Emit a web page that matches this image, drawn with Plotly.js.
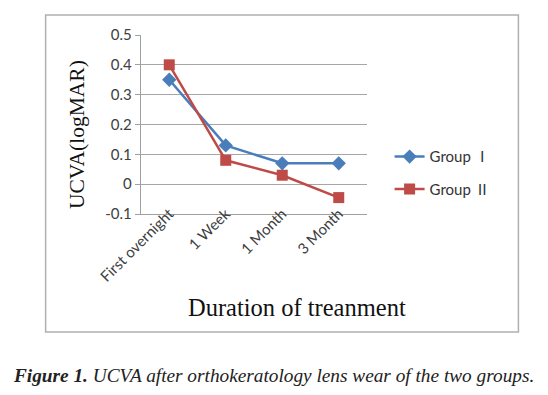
<!DOCTYPE html>
<html><head><meta charset="utf-8">
<script src="https://cdn.plot.ly/plotly-3.0.1.min.js"></script>
<style>html,body{margin:0;padding:0;background:#fff;}#chart{width:548px;height:395px;}</style>
</head><body><div id="chart"></div>
<script>
const categories = ["First overnight", "1 Week", "1 Month", "3 Month"];
const groupI = [0.35, 0.13, 0.07, 0.07];
const groupII = [0.40, 0.08, 0.03, -0.045];
const yTickVals = [-0.1, 0, 0.1, 0.2, 0.3, 0.4, 0.5];
const yTickText = ["-0.1", "0", "0.1", "0.2", "0.3", "0.4", "0.5"];

const tickFont = {family: "Lato, 'Open Sans', sans-serif", size: 15, color: "#404040"};
const serif = "'Liberation Serif', 'DejaVu Serif', serif";

const traces = [
  {x: categories, y: groupI, name: "Group <span style='font-family:\"Noto Sans CJK SC\"'>Ⅰ</span>", legendgroup: "g1",
   type: "scatter", mode: "lines+markers",
   line: {color: "#4A7EBB", width: 2.5}, marker: {symbol: "diamond", size: 11, color: "#4A7EBB"}},
  {x: categories, y: groupII, name: "Group <span style='font-family:\"Noto Sans CJK SC\"'>Ⅱ</span>", legendgroup: "g2",
   type: "scatter", mode: "lines+markers",
   line: {color: "#BE4B48", width: 2.5}, marker: {symbol: "square", size: 11, color: "#BE4B48"}}
];

const layout = {
  width: 548, height: 395,
  margin: {l: 141, r: 181, t: 35, b: 181},
  paper_bgcolor: "#fff", plot_bgcolor: "#fff",
  showlegend: true,
  legend: {x: 1.1, y: 0.23, xanchor: "left", yanchor: "middle",
           font: {family: "Lato, 'Open Sans', sans-serif", size: 15, color: "#333"},
           tracegroupgap: 10, bgcolor: "rgba(0,0,0,0)"},
  xaxis: {type: "category", range: [-0.5, 3.5], tickangle: -45, tickfont: tickFont,
          showgrid: false, showline: true, linecolor: "#a0a0a0", linewidth: 1.2,
          ticks: "", ticklabelstandoff: -16, fixedrange: true},
  yaxis: {range: [-0.1, 0.5], tickvals: yTickVals, ticktext: yTickText, tickfont: tickFont,
          showgrid: true, gridcolor: "#a6a6a6", gridwidth: 1, zeroline: false,
          showline: true, linecolor: "#a0a0a0", linewidth: 1.2,
          ticks: "outside", ticklen: 5, tickcolor: "#a0a0a0"},
  shapes: [
    {type: "rect", xref: "paper", yref: "paper", x0: -0.422, x1: 1.670, y0: -0.659, y1: 1.112,
     line: {color: "#b0b0b0", width: 1.5}, fillcolor: "rgba(0,0,0,0)"}
  ],
  annotations: [
    {text: "UCVA(logMAR)", xref: "paper", yref: "paper", x: -0.283, y: 0.441, textangle: -90,
     xanchor: "center", yanchor: "middle", showarrow: false, font: {family: serif, size: 21.5, color: "#111"}},
    {text: "Duration of treanment", xref: "paper", yref: "paper", x: 0.692, y: -0.52,
     xanchor: "center", yanchor: "middle", showarrow: false, font: {family: serif, size: 24.5, color: "#111"}},
    {text: "<b>Figure 1.</b> UCVA after orthokeratology lens wear of the two groups.", xref: "paper", yref: "paper",
     x: 0.588, y: -0.9, xanchor: "center", yanchor: "middle", showarrow: false,
     font: {family: serif, size: 19.3, color: "#222", style: "italic"}}
  ]
};

Plotly.newPlot("chart", traces, layout, {displayModeBar: false, staticPlot: true});
</script></body></html>
